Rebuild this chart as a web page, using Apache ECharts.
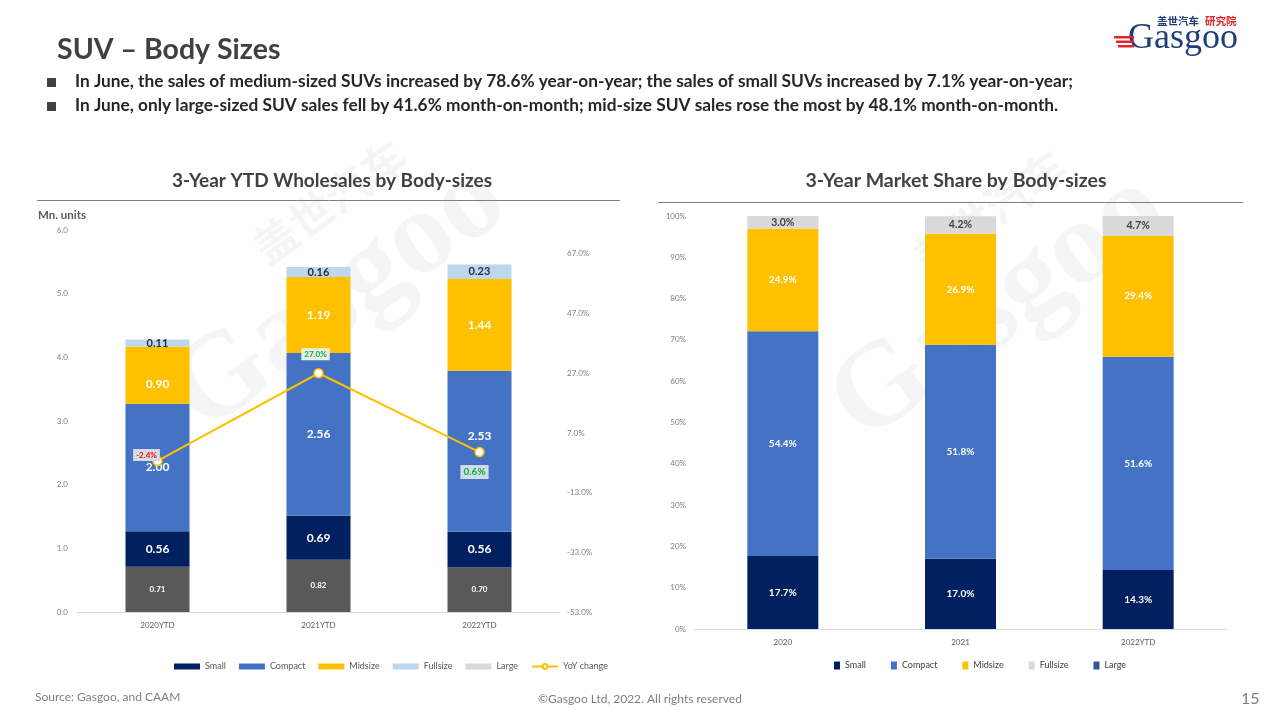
<!DOCTYPE html>
<html>
<head>
<meta charset="utf-8">
<script src="https://cdn.jsdelivr.net/npm/echarts@6/dist/echarts.min.js"></script>
<style>
html,body{margin:0;padding:0;background:#fff;}
#chart{width:1280px;height:720px;}
</style>
</head>
<body>
<div id="chart"></div>
<script>
// ---------- DATA ----------
const years = ['2020YTD', '2021YTD', '2022YTD'];
const baseSeg = [0.71, 0.82, 0.70];      // dark grey bottom segment
const small = [0.56, 0.69, 0.56];
const compact = [2.00, 2.56, 2.53];
const midsize = [0.90, 1.19, 1.44];
const fullsize = [0.11, 0.16, 0.23];
const yoyChange = [-2.4, 27.0, 0.6];

const shareYears = ['2020', '2021', '2022YTD'];
const shareSmall = [17.7, 17.0, 14.3];
const shareCompact = [54.4, 51.8, 51.6];
const shareMidsize = [24.9, 26.9, 29.4];
const shareFullsize = [3.0, 4.2, 4.7];
const shareLarge = [0.0, 0.1, 0.0];

const leftTicks = [0, 6, 1];        // min, max, interval
const yoyTicks = [-53, 75, 20];      // min, max, interval

// ---------- STYLE ----------
const FONT = 'Lato, "Liberation Sans", sans-serif';
const C = {
  small: '#002060', compact: '#4472c4', mid: '#ffc000',
  fullL: '#bdd7ee', fullR: '#d9d9d9', base: '#595959', largeL: '#d9d9d9', largeR: '#2f5597'
};

const chart = echarts.init(document.getElementById('chart'), null, {renderer: 'canvas'});

function barLabel(color, size, fmt) {
  return {show: true, position: 'inside', color: color, fontSize: size, fontWeight: 'bold', fontFamily: FONT, formatter: fmt};
}
const f2 = p => p.value.toFixed(2);
const f1p = p => p.value.toFixed(1) + '%';

// per-point label tweaks
const compactData = compact.map((v, i) => i === 2 ? {value: v, label: {offset: [0, -15]}} : v);
const midData = midsize.map((v, i) => i === 0 ? {value: v, label: {offset: [0, 9]}} : v);
const yoyOffsets = [[-11, -6], [-3, -19], [-5, 20]];
const yoyData = yoyChange.map((v, i) => ({
  value: v,
  label: {
    offset: yoyOffsets[i],
    color: v < 0 ? '#ff0000' : '#00b050',
    backgroundColor: i === 1 ? '#e8eee0' : '#d6dce5',
    fontSize: i === 2 ? 10 : 8
  }
}));

function watermark(x, y) {
  return [
    {type: 'text', x: x, y: y, rotation: 0.62, z: 0,
     style: {text: 'Gasgoo', font: 'bold 120px "Liberation Serif", serif', fill: '#000', opacity: 0.04}},
    {type: 'text', x: x + 95, y: y - 125, rotation: 0.62, z: 0,
     style: {text: '盖世汽车', font: 'bold 44px "Noto Sans CJK SC", sans-serif', fill: '#000', opacity: 0.04}}
  ];
}

const option = {
  animation: false,
  backgroundColor: '#fff',
  textStyle: {fontFamily: FONT},
  title: [
    {text: '3-Year YTD Wholesales by Body-sizes', left: 327, top: 166, textAlign: 'center',
     textStyle: {fontSize: 19, fontWeight: 'bold', color: '#404040', fontFamily: FONT}},
    {text: '3-Year Market Share by Body-sizes', left: 951, top: 166, textAlign: 'center',
     textStyle: {fontSize: 19.5, fontWeight: 'bold', color: '#404040', fontFamily: FONT}}
  ],
  graphic: [
    ...watermark(150, 360),
    ...watermark(810, 370),
    {type: 'text', x: 57, y: 35, style: {text: 'SUV – Body Sizes', font: 'bold 28.5px ' + FONT, fill: '#404040'}},
    {type: 'rect', shape: {x: 47, y: 78, width: 9, height: 9}, style: {fill: '#404040'}},
    {type: 'rect', shape: {x: 47, y: 102, width: 9, height: 9}, style: {fill: '#404040'}},
    {type: 'text', x: 75, y: 73, style: {text: 'In June, the sales of medium-sized SUVs increased by 78.6% year-on-year; the sales of small SUVs increased by 7.1% year-on-year;', font: 'bold 17.3px ' + FONT, fill: '#262626'}},
    {type: 'text', x: 75, y: 97, style: {text: 'In June, only large-sized SUV sales fell by 41.6% month-on-month; mid-size SUV sales rose the most by 48.1% month-on-month.', font: 'bold 17.3px ' + FONT, fill: '#262626'}},
    // title underlines
    {type: 'line', shape: {x1: 37, y1: 200.5, x2: 620, y2: 200.5}, style: {stroke: '#7f7f7f', lineWidth: 1}},
    {type: 'line', shape: {x1: 658, y1: 202.5, x2: 1243, y2: 202.5}, style: {stroke: '#7f7f7f', lineWidth: 1}},
    {type: 'text', x: 38, y: 209, style: {text: 'Mn. units', font: 'bold 11.5px ' + FONT, fill: '#595959'}},
    // footer
    {type: 'text', x: 35, y: 691, style: {text: 'Source: Gasgoo, and CAAM', font: '12px ' + FONT, fill: '#7f7f7f'}},
    {type: 'text', x: 640, y: 693, style: {text: '©Gasgoo Ltd, 2022. All rights reserved', font: '12px ' + FONT, fill: '#7f7f7f', align: 'center'}},
    {type: 'text', x: 1241, y: 691, style: {text: '15', font: '16px ' + FONT, fill: '#7f7f7f'}},
    // logo
    {type: 'text', x: 1157, y: 16, style: {text: '盖世汽车', font: 'bold 10.5px "Noto Sans CJK SC", sans-serif', fill: '#1f3d7a'}},
    {type: 'text', x: 1205, y: 16, style: {text: '研究院', font: 'bold 10.5px "Noto Sans CJK SC", sans-serif', fill: '#e0262b'}},
    {type: 'text', x: 1128, y: 21, style: {text: 'Gasgoo', font: '36px "Liberation Serif", serif', fill: '#1f3d7a'}},
    {type: 'rect', shape: {x: 1114, y: 36, width: 20, height: 2.5}, style: {fill: '#e0262b'}},
    {type: 'rect', shape: {x: 1116, y: 40.5, width: 18, height: 2.5}, style: {fill: '#e0262b'}},
    {type: 'rect', shape: {x: 1118, y: 45, width: 16, height: 2.5}, style: {fill: '#e0262b'}}
  ],
  legend: [
    {left: 169, top: 657, itemWidth: 26, itemHeight: 6, itemGap: 13,
     textStyle: {fontSize: 9, color: '#595959', fontFamily: FONT},
     data: [
       {name: 'Small', icon: 'rect', itemStyle: {color: C.small}},
       {name: 'Compact', icon: 'rect', itemStyle: {color: C.compact}},
       {name: 'Midsize', icon: 'rect', itemStyle: {color: C.mid}},
       {name: 'Fullsize', icon: 'rect', itemStyle: {color: C.fullL}},
       {name: 'Large', icon: 'rect', itemStyle: {color: C.largeL}},
       {name: 'YoY change'}
     ]},
    {left: 829, top: 656, itemWidth: 6, itemHeight: 8, itemGap: 25,
     textStyle: {fontSize: 9, color: '#404040', fontFamily: FONT},
     data: [
       {name: 'Small', icon: 'rect', itemStyle: {color: C.small}},
       {name: 'Compact', icon: 'rect', itemStyle: {color: C.compact}},
       {name: 'Midsize', icon: 'rect', itemStyle: {color: C.mid}},
       {name: 'Fullsize', icon: 'rect', itemStyle: {color: C.fullR}},
       {name: 'Large', icon: 'rect', itemStyle: {color: C.largeR}}
     ]}
  ],
  grid: [
    {left: 77, right: 720, top: 230, bottom: 108},
    {left: 694, right: 53, top: 216, bottom: 91}
  ],
  xAxis: [
    {type: 'category', gridIndex: 0, data: years,
     axisLine: {lineStyle: {color: '#d9d9d9'}}, axisTick: {show: false},
     axisLabel: {fontSize: 8, color: '#595959', margin: 9}},
    {type: 'category', gridIndex: 1, data: shareYears,
     axisLine: {lineStyle: {color: '#d9d9d9'}}, axisTick: {show: false},
     axisLabel: {fontSize: 8, color: '#595959', margin: 9}}
  ],
  yAxis: [
    {type: 'value', gridIndex: 0, min: leftTicks[0], max: leftTicks[1], interval: leftTicks[2],
     splitLine: {show: false}, axisLine: {show: false}, axisTick: {show: false},
     axisLabel: {fontSize: 8, color: '#7f7f7f', margin: 9, formatter: v => v.toFixed(1)}},
    {type: 'value', gridIndex: 0, position: 'right', min: yoyTicks[0], max: yoyTicks[1], interval: yoyTicks[2],
     splitLine: {show: false}, axisLine: {show: false}, axisTick: {show: false},
     axisLabel: {fontSize: 8, color: '#7f7f7f', margin: 7, showMaxLabel: false, formatter: v => v.toFixed(1) + '%'}},
    {type: 'value', gridIndex: 1, min: 0, max: 100, interval: 10,
     splitLine: {show: false}, axisLine: {show: false}, axisTick: {show: false},
     axisLabel: {fontSize: 8, color: '#7f7f7f', margin: 8, formatter: '{value}%'}}
  ],
  series: [
    // left stacked bars
    {name: 'Large', type: 'bar', stack: 'L', xAxisIndex: 0, yAxisIndex: 0, barWidth: 64, data: baseSeg,
     itemStyle: {color: C.base}, label: barLabel('#fff', 8, f2)},
    {name: 'Small', type: 'bar', stack: 'L', xAxisIndex: 0, yAxisIndex: 0, barWidth: 64, data: small,
     itemStyle: {color: C.small}, label: barLabel('#fff', 12, f2)},
    {name: 'Compact', type: 'bar', stack: 'L', xAxisIndex: 0, yAxisIndex: 0, barWidth: 64, data: compactData,
     itemStyle: {color: C.compact}, label: barLabel('#fff', 12, f2)},
    {name: 'Midsize', type: 'bar', stack: 'L', xAxisIndex: 0, yAxisIndex: 0, barWidth: 64, data: midData,
     itemStyle: {color: C.mid}, label: barLabel('#fff', 12, f2)},
    {name: 'Fullsize', type: 'bar', stack: 'L', xAxisIndex: 0, yAxisIndex: 0, barWidth: 64, data: fullsize,
     itemStyle: {color: C.fullL}, label: barLabel('#1f2a3c', 11, f2)},
    {name: 'YoY change', type: 'line', xAxisIndex: 0, yAxisIndex: 1, data: yoyData, z: 5,
     symbol: 'circle', symbolSize: 9,
     lineStyle: {color: C.mid, width: 2},
     itemStyle: {color: '#fff', borderColor: C.mid, borderWidth: 1.5},
     label: {show: true, position: 'inside', fontWeight: 'bold', fontFamily: FONT, padding: [2, 3],
             formatter: p => p.value.toFixed(1) + '%'}},
    // right stacked bars
    {name: 'Small', type: 'bar', stack: 'R', xAxisIndex: 1, yAxisIndex: 2, barWidth: 71, data: shareSmall,
     itemStyle: {color: C.small}, label: barLabel('#fff', 10, f1p)},
    {name: 'Compact', type: 'bar', stack: 'R', xAxisIndex: 1, yAxisIndex: 2, barWidth: 71, data: shareCompact,
     itemStyle: {color: C.compact}, label: barLabel('#fff', 10, f1p)},
    {name: 'Midsize', type: 'bar', stack: 'R', xAxisIndex: 1, yAxisIndex: 2, barWidth: 71, data: shareMidsize,
     itemStyle: {color: C.mid}, label: barLabel('#fff', 10, f1p)},
    {name: 'Fullsize', type: 'bar', stack: 'R', xAxisIndex: 1, yAxisIndex: 2, barWidth: 71, data: shareFullsize,
     itemStyle: {color: C.fullR}, label: barLabel('#404040', 10.5, f1p)},
    {name: 'Large', type: 'bar', stack: 'R', xAxisIndex: 1, yAxisIndex: 2, barWidth: 71, data: shareLarge,
     itemStyle: {color: C.fullR},
     label: {show: true, position: 'top', offset: [0, 9], color: '#f4f4f4', fontSize: 7, fontFamily: FONT,
             formatter: p => p.value > 0 ? p.value.toFixed(1) + '%' : ''}}
  ]
};
chart.setOption(option);
</script>
</body>
</html>
